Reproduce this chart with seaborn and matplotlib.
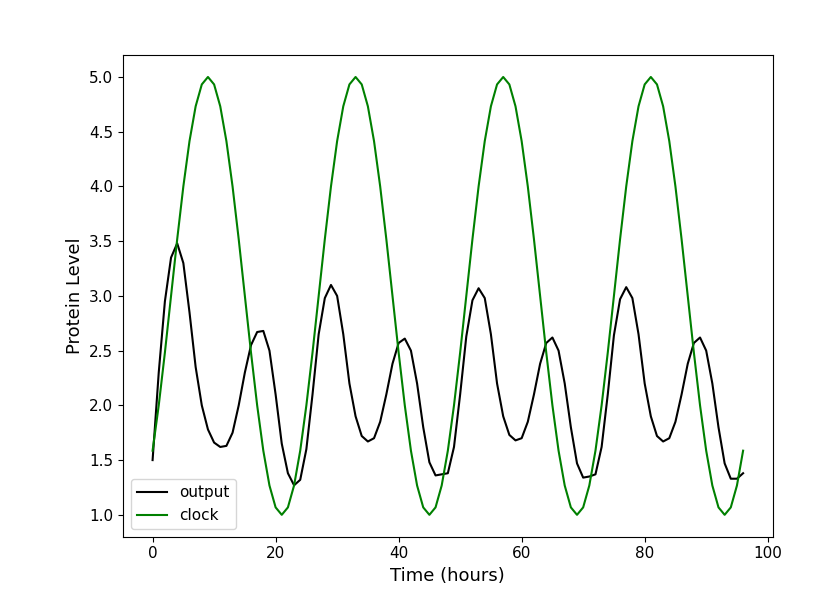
import matplotlib
matplotlib.use("Agg")
import pandas as pd
import seaborn as sns
import matplotlib.pyplot as plt

# hourly readings, t = 0..96
time_hours = list(range(97))

clock_cycle = [1.586, 2.0, 2.482, 3.0, 3.518, 4.0, 4.414, 4.732, 4.932, 5.0, 4.932, 4.732,
               4.414, 4.0, 3.518, 3.0, 2.482, 2.0, 1.586, 1.268, 1.068, 1.0, 1.068, 1.268]
clock = clock_cycle * 4 + [1.586]

output = [1.50, 2.30, 2.95, 3.35, 3.48, 3.30, 2.85, 2.35, 2.00, 1.78, 1.66, 1.62,
          1.63, 1.75, 2.00, 2.30, 2.55, 2.67, 2.68, 2.50, 2.10, 1.65, 1.38, 1.27,
          1.32, 1.60, 2.10, 2.65, 2.98, 3.10, 3.00, 2.65, 2.20, 1.90, 1.72, 1.67,
          1.70, 1.85, 2.10, 2.38, 2.57, 2.61, 2.50, 2.20, 1.80, 1.48, 1.36, 1.37,
          1.38, 1.62, 2.10, 2.63, 2.96, 3.07, 2.98, 2.65, 2.20, 1.90, 1.73, 1.68,
          1.70, 1.85, 2.10, 2.38, 2.57, 2.62, 2.50, 2.20, 1.80, 1.47, 1.34, 1.35,
          1.37, 1.62, 2.10, 2.64, 2.97, 3.08, 2.98, 2.65, 2.20, 1.90, 1.72, 1.67,
          1.70, 1.85, 2.10, 2.38, 2.57, 2.62, 2.50, 2.20, 1.80, 1.47, 1.33, 1.33, 1.38]

df = pd.DataFrame({"time": time_hours, "output": output, "clock": clock})

fig, ax = plt.subplots(figsize=(8.15, 6.12), dpi=100)
fig.subplots_adjust(left=0.151, right=0.948, top=0.91, bottom=0.123)
sns.lineplot(data=df, x="time", y="output", color="black", label="output", ax=ax)
sns.lineplot(data=df, x="time", y="clock", color="green", label="clock", ax=ax)
ax.set_xlabel("Time (hours)", fontsize=13)
ax.set_ylabel("Protein Level", fontsize=13)
ax.tick_params(labelsize=11)
ax.legend(loc="lower left", fontsize=11)
plt.savefig("out.png", dpi=100)
